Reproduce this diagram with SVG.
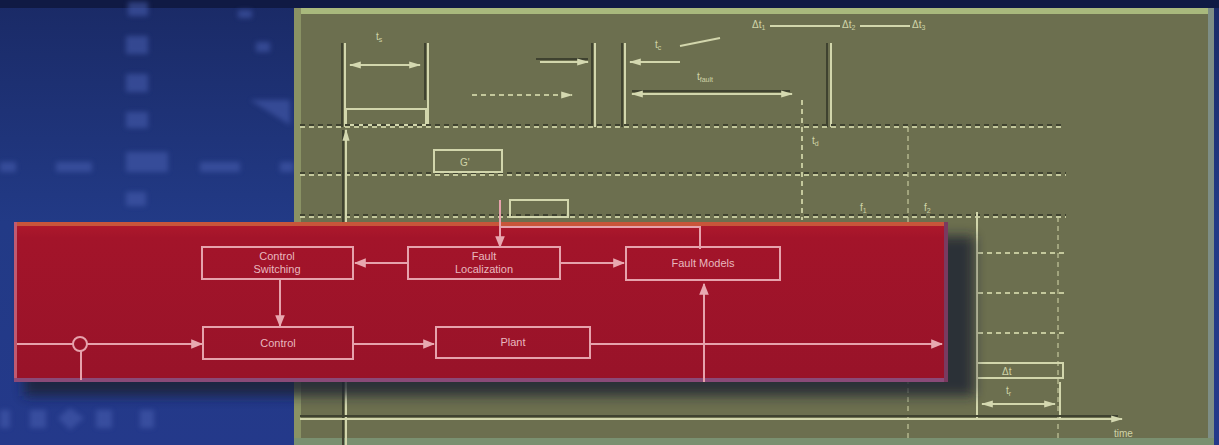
<svg xmlns="http://www.w3.org/2000/svg" width="1219" height="445" viewBox="0 0 1219 445">
<defs>
<linearGradient id="bg" x1="0" y1="0" x2="0" y2="1">
<stop offset="0" stop-color="#1a2a66"/>
<stop offset="0.5" stop-color="#223a86"/>
<stop offset="1" stop-color="#24398a"/>
</linearGradient>
<linearGradient id="red" x1="0" y1="0" x2="0" y2="1">
<stop offset="0" stop-color="#b01a2c"/>
<stop offset="0.1" stop-color="#a3142a"/>
<stop offset="1" stop-color="#981329"/>
</linearGradient>
<marker id="ah" viewBox="0 0 10 10" refX="9" refY="5" markerWidth="6" markerHeight="6" orient="auto-start-reverse">
<path d="M0,1 L10,5 L0,9 z" fill="#e8a8b0"/>
</marker>
<marker id="gh" viewBox="0 0 10 10" refX="9" refY="5" markerWidth="6" markerHeight="6" orient="auto-start-reverse">
<path d="M0,2 L10,5 L0,8 z" fill="#d4d8b0"/>
</marker>
<filter id="blur" x="-10%" y="-10%" width="130%" height="140%"><feGaussianBlur stdDeviation="6"/></filter>
<filter id="soft" x="-20%" y="-20%" width="140%" height="140%"><feGaussianBlur stdDeviation="2.5"/></filter>
</defs>
<style>
.node rect{fill:none;stroke:#e6a2ac;stroke-width:2}
.node text{fill:#e8b8bf;font-family:"Liberation Sans",Arial,sans-serif;font-size:11px;text-anchor:middle}
.conn line,.conn path,.conn polyline{fill:none;stroke:#e6a2ac;stroke-width:2}
.gl{stroke:#d2d6ac;stroke-width:2;fill:none}
.gs{stroke:#3f4230;stroke-width:2;fill:none}
.gd{stroke:#c4c89c;stroke-width:2;stroke-dasharray:5 4;fill:none}
.gdd{stroke:#3f4230;stroke-width:2;stroke-dasharray:5 4;fill:none}
.gt{fill:#d0d4a8;font-family:"Liberation Sans",Arial,sans-serif;font-size:10px}
.deco{fill:#4a5eb0;opacity:0.55}
</style>

<!-- background -->
<rect x="0" y="0" width="1219" height="445" fill="url(#bg)"/>
<rect x="0" y="0" width="1219" height="8" fill="#101a44"/>
<g class="deco" filter="url(#soft)">
<rect x="128" y="2" width="20" height="14"/>
<rect x="126" y="36" width="22" height="18"/>
<rect x="126" y="74" width="22" height="18"/>
<rect x="126" y="112" width="22" height="16"/>
<rect x="126" y="152" width="42" height="20"/>
<rect x="126" y="192" width="20" height="14"/>
<rect x="0" y="162" width="16" height="10"/>
<rect x="56" y="162" width="36" height="10"/>
<rect x="200" y="162" width="40" height="10"/>
<rect x="280" y="162" width="14" height="10"/>
<rect x="238" y="10" width="14" height="8"/>
<rect x="256" y="42" width="14" height="10"/>
<path d="M250,100 L290,100 L290,125 Z"/>
<rect x="0" y="410" width="10" height="18"/>
<rect x="30" y="410" width="16" height="18"/>
<path d="M70,408 L84,418 L70,430 L58,418 Z"/>
<rect x="96" y="410" width="16" height="18"/>
<rect x="140" y="410" width="14" height="18"/>
</g>

<!-- green panel -->
<rect x="294" y="8" width="920" height="434" fill="#6c6f4f"/>
<rect x="294" y="8" width="920" height="6" fill="#a9b97d"/>
<rect x="294" y="8" width="7" height="434" fill="#8a9264"/>
<rect x="1208" y="8" width="6" height="434" fill="#7e8e86"/>
<rect x="294" y="438" width="920" height="7" fill="#7a9070"/>

<!-- timing chart -->
<g id="timing">
<line class="gs" x1="342" y1="43" x2="342" y2="127"/><line class="gl" x1="345" y1="43" x2="345" y2="127"/>
<line class="gs" x1="425" y1="43" x2="425" y2="100"/><line class="gl" x1="428" y1="43" x2="428" y2="127"/>
<line class="gl" x1="350" y1="65" x2="420" y2="65" marker-start="url(#gh)" marker-end="url(#gh)"/>
<text class="gt" x="376" y="40">t<tspan font-size="7" dy="2">s</tspan></text>
<rect class="gl" x="346" y="109" width="80" height="16" stroke-width="1"/>
<line class="gs" x1="592" y1="43" x2="592" y2="127"/><line class="gl" x1="595" y1="43" x2="595" y2="127"/>
<line class="gs" x1="536" y1="59" x2="588" y2="59"/><line class="gl" x1="540" y1="62" x2="588" y2="62" marker-end="url(#gh)"/>
<line class="gd" x1="472" y1="95" x2="572" y2="95" marker-end="url(#gh)"/>
<line class="gs" x1="622" y1="43" x2="622" y2="127"/><line class="gl" x1="625" y1="43" x2="625" y2="127"/>
<line class="gl" x1="680" y1="62" x2="630" y2="62" marker-end="url(#gh)"/>
<text class="gt" x="655" y="48">t<tspan font-size="7" dy="2">c</tspan></text>
<line class="gl" x1="680" y1="46" x2="720" y2="38" stroke-width="1"/>
<text class="gt" x="697" y="80">t<tspan font-size="7" dy="2">fault</tspan></text>
<line class="gs" x1="632" y1="91" x2="790" y2="91"/>
<line class="gl" x1="632" y1="94" x2="792" y2="94" marker-start="url(#gh)" marker-end="url(#gh)"/>
<line class="gs" x1="827" y1="43" x2="827" y2="127"/><line class="gl" x1="831" y1="43" x2="831" y2="127"/>
<text class="gt" x="752" y="28">Δt<tspan font-size="7" dy="2">1</tspan></text>
<line class="gl" x1="770" y1="26" x2="840" y2="26" stroke-width="1"/>
<text class="gt" x="842" y="28">Δt<tspan font-size="7" dy="2">2</tspan></text>
<line class="gl" x1="860" y1="26" x2="910" y2="26" stroke-width="1"/>
<text class="gt" x="912" y="28">Δt<tspan font-size="7" dy="2">3</tspan></text>
<line class="gd" x1="802" y1="100" x2="802" y2="220" stroke-dasharray="2 3" stroke-width="4"/>
<text class="gt" x="812" y="144">t<tspan font-size="7" dy="2">d</tspan></text>
<line class="gdd" x1="300" y1="125" x2="1064" y2="125"/><line class="gd" x1="300" y1="127" x2="1064" y2="127"/>
<line class="gdd" x1="300" y1="173" x2="1066" y2="173"/><line class="gd" x1="300" y1="175" x2="1066" y2="175"/>
<line class="gdd" x1="300" y1="215" x2="1066" y2="215"/><line class="gd" x1="300" y1="217" x2="1066" y2="217"/>
<line class="gd" x1="978" y1="253" x2="1064" y2="253"/>
<line class="gd" x1="978" y1="293" x2="1064" y2="293"/>
<line class="gd" x1="978" y1="333" x2="1064" y2="333"/>
<line class="gd" x1="908" y1="127" x2="908" y2="440" stroke-dasharray="2 4" stroke-width="1" opacity="0.6"/>
<line class="gd" x1="1058" y1="217" x2="1058" y2="440" stroke-dasharray="2 4" stroke-width="1" opacity="0.6"/>
<rect class="gl" x="434" y="150" width="68" height="22" stroke-width="1.5"/>
<text class="gt" x="460" y="166" font-size="12">G'</text>
<rect class="gl" x="510" y="200" width="58" height="17" stroke-width="1.5"/>
<text class="gt" x="860" y="211">f<tspan font-size="7" dy="2">1</tspan></text>
<text class="gt" x="924" y="211">f<tspan font-size="7" dy="2">2</tspan></text>
<line class="gl" x1="977" y1="212" x2="977" y2="420"/>
<line class="gl" x1="1060" y1="382" x2="1060" y2="420"/>
<rect class="gl" x="977" y="363" width="86" height="15" stroke-width="1"/>
<text class="gt" x="1002" y="375">Δt</text>
<text class="gt" x="1006" y="394">t<tspan font-size="7" dy="2">r</tspan></text>
<line class="gl" x1="982" y1="404" x2="1055" y2="404" marker-start="url(#gh)" marker-end="url(#gh)"/>
<line class="gs" x1="343" y1="130" x2="343" y2="445"/>
<line class="gl" x1="346" y1="445" x2="346" y2="130" marker-end="url(#gh)"/>
<line class="gs" x1="300" y1="416" x2="1118" y2="416"/>
<line class="gl" x1="300" y1="419" x2="1122" y2="419" marker-end="url(#gh)"/>
<text class="gt" x="1114" y="437" font-size="13">time</text>
</g>

<!-- red block diagram panel -->
<rect x="24" y="236" width="950" height="160" fill="#1a2030" opacity="0.8" filter="url(#blur)"/>
<rect x="14" y="222" width="934" height="160" fill="url(#red)"/>
<rect x="14" y="222" width="934" height="4" fill="#c8553a"/>
<rect x="14" y="222" width="3" height="160" fill="#c05a70"/>
<rect x="14" y="378" width="934" height="4" fill="#8a4a78"/>
<rect x="944" y="222" width="4" height="160" fill="#7a3a60"/>

<g class="conn">
<line x1="500" y1="200" x2="500" y2="227"/>
<polyline points="500,227 700,227 700,249"/>
<line x1="500" y1="227" x2="500" y2="247" marker-end="url(#ah)"/>
<line x1="408" y1="263" x2="355" y2="263" marker-end="url(#ah)"/>
<line x1="560" y1="263" x2="624" y2="263" marker-end="url(#ah)"/>
<line x1="280" y1="279" x2="280" y2="326" marker-end="url(#ah)"/>
<line x1="17" y1="344" x2="73" y2="344"/>
<line x1="87" y1="344" x2="202" y2="344" marker-end="url(#ah)"/>
<line x1="81" y1="380" x2="81" y2="351"/>
<line x1="353" y1="344" x2="434" y2="344" marker-end="url(#ah)"/>
<line x1="590" y1="344" x2="942" y2="344" marker-end="url(#ah)"/>
<line x1="704" y1="382" x2="704" y2="284" marker-end="url(#ah)"/>
</g>

<g id="sum" class="node"><circle cx="80" cy="344" r="7" fill="none" stroke="#e6a2ac" stroke-width="2"/></g>
<g id="control-switching" class="node">
<rect x="202" y="247" width="151" height="32"/>
<text x="277" y="260">Control</text><text x="277" y="273">Switching</text>
</g>
<g id="fault-localization" class="node">
<rect x="408" y="247" width="152" height="32"/>
<text x="484" y="260">Fault</text><text x="484" y="273">Localization</text>
</g>
<g id="fault-models" class="node">
<rect x="626" y="247" width="154" height="33"/>
<text x="703" y="267">Fault Models</text>
</g>
<g id="control" class="node">
<rect x="203" y="327" width="150" height="32"/>
<text x="278" y="347">Control</text>
</g>
<g id="plant" class="node">
<rect x="436" y="327" width="154" height="31"/>
<text x="513" y="346">Plant</text>
</g>
</svg>
